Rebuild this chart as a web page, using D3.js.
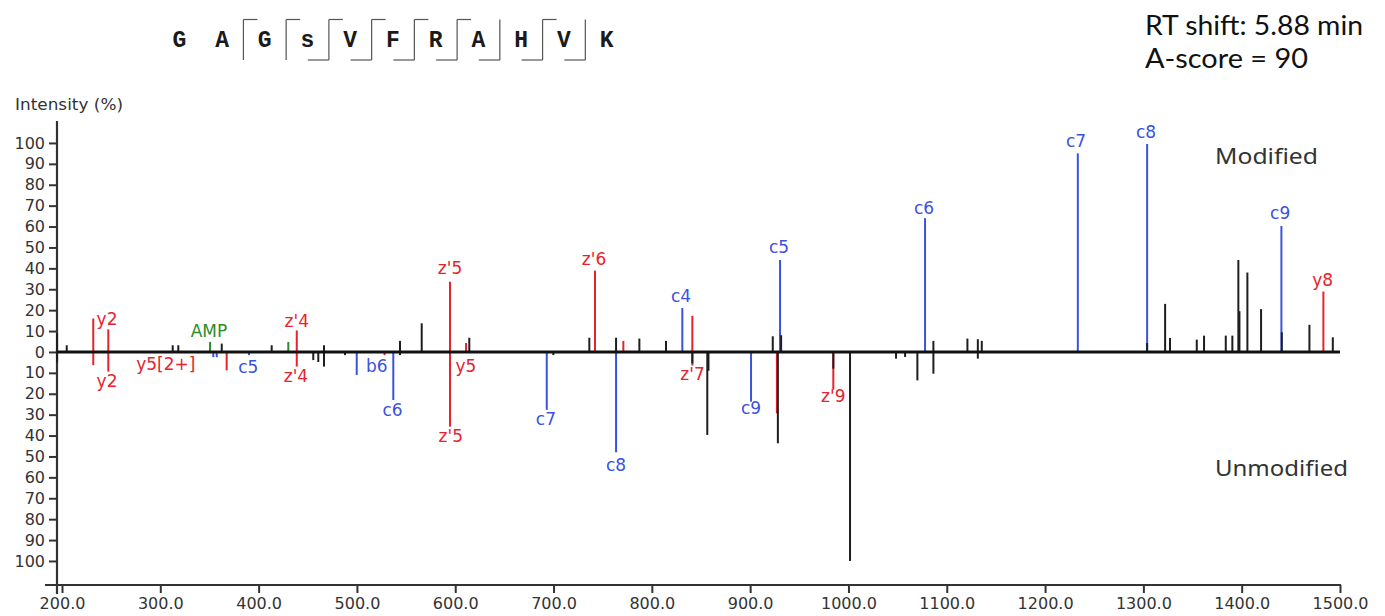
<!DOCTYPE html>
<html><head><meta charset="utf-8">
<script src="https://cdn.jsdelivr.net/npm/d3@7"></script>
<style>html,body{margin:0;padding:0;background:#fff;}svg{display:block;}</style>
</head><body>
<svg id="chart" width="1385" height="616"></svg>
<script>
// ---------------- data ----------------
const sequence = ["G","A","G","s","V","F","R","A","H","V","K"];
// fragment break after residue index (1-based count of residues before break): top = c-type hook, bottom = z-type hook
const breakIndex = [2,3,4,5,6,7,8,9,10];
const breakTop    = [1,1,1,1,1,1,0,1,0];
const breakBottom = [0,0,1,1,1,1,1,1,1];

const infoLines = ["RT shift: 5.88 min", "A-score = 90"];
const panelLabels = ["Modified", "Unmodified"];
const xTicks = [200,300,400,500,600,700,800,900,1000,1100,1200,1300,1400,1500];
const yTicks = [-100,-90,-80,-70,-60,-50,-40,-30,-20,-10,0,10,20,30,40,50,60,70,80,90,100];

// Modified spectrum (upward): [m/z, intensity %]
const modOther = [[195,9],[204.8,3.2],[312.6,3.2],[318.3,3.2],[362.5,4],[413.3,3.2],[466.5,3.2],[543.8,5.3],
  [565.9,13.7],[614.3,6.8],[736.4,6.8],[763.6,6.8],[787.3,6.4],[814.4,5.3],[923.0,7.5],[931.5,8],[1086.4,5.3],
  [1121.0,6.4],[1131.6,6.1],[1135.6,5.3],[1303.8,4.3],[1322.1,23],[1327.1,6.7],[1354.3,5.9],[1361.7,7.8],[1383.8,7.8],
  [1390.5,7.8],[1396.6,44],[1397.7,19.5],[1405.8,38],[1419.7,20.5],[1440.8,9.4],[1468.9,13],[1492.7,7]];
const modRed = [[231.8,16],[247.1,10.8],[438.8,10.3],[594.7,33.6],[611.0,4.3],[742.2,38.9],[771.0,5.3],[841.2,17.3],[1483.1,28.9]];
const modBlue = [[831.0,21],[930.4,44],[1077.9,64],[1233.3,95],[1303.8,99.5],[1440.4,60.3]];
const modGreen = [[350.6,4.8],[430.2,4.8]];

// Unmodified spectrum (downward): [m/z, intensity %]
const unmodOther = [[195,5],[455.6,3.9],[460.7,4.8],[466.5,7],[487.9,1.5],[543.8,1.5],[699.8,1.5],[841.2,5.5],
  [856.4,39.7],[857.6,9],[928.2,43.7],[984.6,8],[1001.6,100],[1048.4,3.2],[1057.6,2.4],[1070.1,13.6],[1086.4,10.4],[1131.6,3.2]];
const unmodRed = [[231.8,6.3],[247.1,9.4],[367.5,8.8],[438.8,7],[528.1,1.5],[594.7,35.7],[841.2,6.5],[927.2,29.4],[984.6,18]];
const unmodBlue = [[353.9,2.5],[357.4,2.5],[390.2,1.5],[499.8,11],[537.0,23],[693.1,27.7],[763.6,48],[900.9,23.8]];

// Ion annotations: [text, m/z, intensity at baseline (negative = below), ion type]
const modLabels = [["y2",245.8,12.9,"red"],["AMP",349.5,7.3,"green"],["z'4",438.8,11.8,"red"],["z'5",594.7,37.2,"red"],
  ["z'6",741.2,41.6,"red"],["c4",829.7,24.1,"blue"],["c5",929.4,47.5,"blue"],["c6",1076.9,66,"blue"],
  ["c7",1231.5,98.2,"blue"],["c8",1302.7,102.2,"blue"],["c9",1439.1,63.5,"blue"],["y8",1482.3,31.6,"red"]];
const unmodLabels = [["y2",245.8,-16.6,"red"],["y5[2+]",305.6,-8.6,"red"],["c5",389.5,-10.2,"blue"],["z'4",438.0,-14.2,"red"],
  ["b6",520.1,-9.4,"blue"],["c6",536.2,-30.5,"blue"],["z'5",595.5,-42.9,"red"],["y5",610.8,-9.4,"red"],
  ["c7",692.2,-34.9,"blue"],["c8",763.6,-56.9,"blue"],["z'7",841.4,-13.4,"red"],["c9",900.9,-29.7,"blue"],["z'9",984.6,-23.8,"red"]];

// ---------------- drawing ----------------
const colors = {red:"#e8222c", blue:"#3a52e0", green:"#2e8b2e", black:"#1e1e1e"};
const svg = d3.select("#chart");
const x = d3.scaleLinear().domain([200,1500]).range([62,1340]);
const y = d3.scaleLinear().domain([-111.5,110.5]).range([585,121]);
const axisColor = "#333";
const tickFont = "'DejaVu Sans', sans-serif";

// header: peptide sequence
const seqX = d3.scalePoint().domain(d3.range(sequence.length)).range([179.3, 606.7]);
const step = seqX.step();
svg.append("g").selectAll("text").data(sequence).join("text")
  .attr("x",(d,i)=>seqX(i)).attr("y",47).attr("text-anchor","middle")
  .attr("font-family","'Liberation Mono', 'Courier New', monospace").attr("font-weight","bold")
  .attr("font-size",23).attr("fill","#1a1a1a").text(d=>d);
const bk = svg.append("g").attr("stroke","#555").attr("stroke-width",1.2).attr("fill","none");
breakIndex.forEach((b,i)=>{
  const bx = seqX(b-1) + step/2;
  bk.append("line").attr("x1",bx).attr("x2",bx).attr("y1",19.5).attr("y2",60);
  if(breakTop[i]) bk.append("line").attr("x1",bx).attr("x2",bx+14).attr("y1",19.5).attr("y2",19.5);
  if(breakBottom[i]) bk.append("line").attr("x1",bx-21).attr("x2",bx).attr("y1",60).attr("y2",60);
});

// info text
svg.append("text").attr("x",1145).attr("y",35).attr("font-family","Lato, 'Noto Sans', sans-serif")
  .attr("font-size",27).attr("fill","#111").attr("textLength",218).attr("lengthAdjust","spacingAndGlyphs").text(infoLines[0]);
svg.append("text").attr("x",1145).attr("y",68).attr("font-family","Lato, 'Noto Sans', sans-serif")
  .attr("font-size",27).attr("fill","#111").attr("textLength",163).attr("lengthAdjust","spacingAndGlyphs").text(infoLines[1]);

// axis title
svg.append("text").attr("x",15).attr("y",110).attr("font-family",tickFont).attr("font-size",15.5)
  .attr("fill","#333").attr("textLength",108).attr("lengthAdjust","spacingAndGlyphs").text("Intensity (%)");

// panel labels
svg.append("text").attr("x",1215).attr("y",164).attr("font-family","'Noto Sans', sans-serif").attr("font-size",22)
  .attr("fill","#333").attr("textLength",103).attr("lengthAdjust","spacingAndGlyphs").text(panelLabels[0]);
svg.append("text").attr("x",1215).attr("y",476).attr("font-family","'Noto Sans', sans-serif").attr("font-size",22)
  .attr("fill","#333").attr("textLength",133).attr("lengthAdjust","spacingAndGlyphs").text(panelLabels[1]);

// y axis
const yAxis = d3.axisLeft(y).tickValues(yTicks).tickSize(8).tickPadding(4).tickFormat(d=>Math.abs(d));
const gy = svg.append("g").attr("transform","translate(57,0)").call(yAxis);
gy.select(".domain").remove();
gy.selectAll(".tick line").attr("stroke",axisColor).attr("stroke-width",2);
gy.selectAll(".tick text").attr("font-family",tickFont).attr("font-size",16).attr("fill","#333");
svg.append("line").attr("x1",57).attr("x2",57).attr("y1",121).attr("y2",594).attr("stroke",axisColor).attr("stroke-width",2.2);

// x axis
const xAxis = d3.axisBottom(x).tickValues(xTicks).tickSize(8).tickPadding(5).tickFormat(d3.format(".1f"));
const gx = svg.append("g").attr("transform","translate(0,585)").call(xAxis);
gx.select(".domain").remove();
gx.selectAll(".tick line").attr("stroke",axisColor).attr("stroke-width",2);
gx.selectAll(".tick text").attr("font-family",tickFont).attr("font-size",16).attr("fill","#333");
svg.append("line").attr("x1",45).attr("x2",x(1500)+1).attr("y1",585).attr("y2",585).attr("stroke",axisColor).attr("stroke-width",2);

// peaks
function drawPeaks(data, sign, color){
  svg.append("g").selectAll("line").data(data).join("line")
    .attr("x1",d=>x(d[0])).attr("x2",d=>x(d[0]))
    .attr("y1",y(0)).attr("y2",d=>y(sign*d[1]))
    .attr("stroke",color).attr("stroke-width",2);
}
drawPeaks(modGreen, 1, colors.green);
drawPeaks(modRed, 1, colors.red);
drawPeaks(modBlue, 1, colors.blue);
drawPeaks(unmodRed, -1, colors.red);
drawPeaks(unmodBlue, -1, colors.blue);
drawPeaks(modOther, 1, colors.black);
drawPeaks(unmodOther, -1, colors.black);

// zero baseline
svg.append("line").attr("x1",57).attr("x2",x(1500)).attr("y1",y(0)).attr("y2",y(0)).attr("stroke","#111").attr("stroke-width",3);

// labels
function drawLabels(data){
  svg.append("g").selectAll("text").data(data).join("text")
    .attr("x",d=>x(d[1])).attr("y",d=>y(d[2])).attr("text-anchor","middle")
    .attr("font-family",tickFont).attr("font-size",17).attr("fill",d=>colors[d[3]]).text(d=>d[0]);
}
drawLabels(modLabels);
drawLabels(unmodLabels);
</script>
</body></html>
